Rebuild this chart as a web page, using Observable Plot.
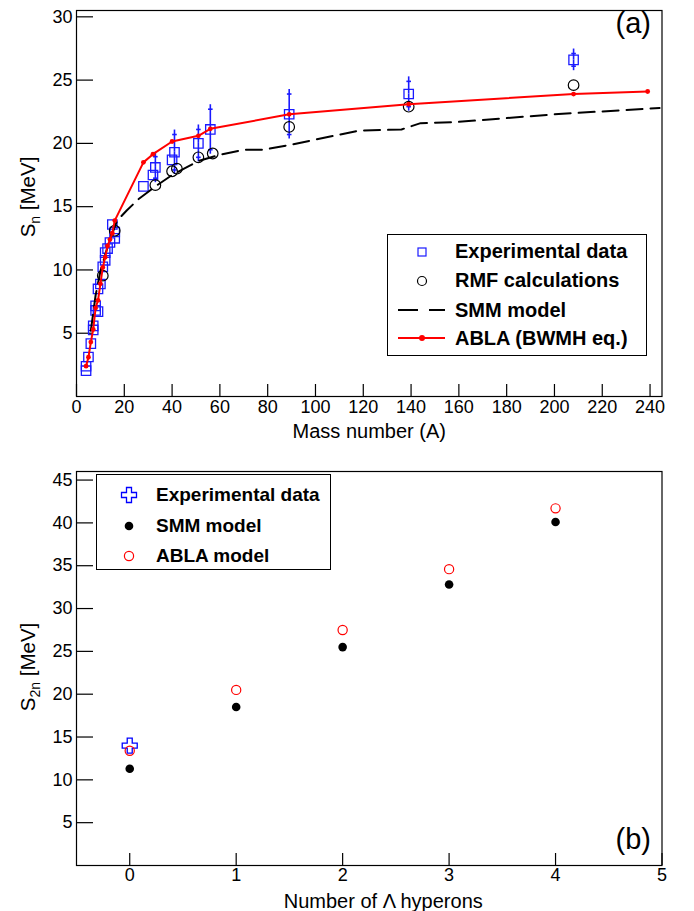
<!DOCTYPE html>
<html><head><meta charset="utf-8">
<script src="https://cdn.jsdelivr.net/npm/d3@7"></script>
<script src="https://cdn.jsdelivr.net/npm/@observablehq/plot@0.6"></script>
<style>
body{margin:0;background:#fff;font-family:"Liberation Sans",Arial,Helvetica,sans-serif;}
#wrap{position:relative;width:694px;height:911px;overflow:hidden;}
#wrap svg{display:block;}
.legend{position:absolute;border:1.5px solid #000;background:#fff;box-sizing:border-box;font-weight:bold;color:#000;}
.legend .row{position:absolute;left:0;white-space:nowrap;}
.legend svg{position:absolute;overflow:visible;}
</style></head><body><div id="wrap"></div>
<script>
// ---------- Panel (a) data ----------
const topXTicks = [0,20,40,60,80,100,120,140,160,180,200,220,240];
const topYTicks = [5,10,15,20,25,30];
const expA   = [4,4,5,6,7,7,8,8,9,9,10,11,12,12,13,14,15,16,16,28,32,33,40,41,51,56,89,139,208];
const expS   = [2.04,2.39,3.12,4.18,5.26,5.58,6.80,7.16,6.71,8.50,8.89,10.24,10.76,11.37,11.69,12.17,13.59,12.50,13.0,16.6,17.5,18.1,18.7,19.3,20.0,21.1,22.3,23.9,26.6];
const expErr = [0,0,0,0,0,0,0,0,0,0,0,0,0,0,0,0,0,0,0,0,0,0.85,0,1.4,1.1,1.6,1.6,1.0,0.5];
const rmfA = [11,16,33,40,42,51,57,89,139,208];
const rmfS = [9.55,13.1,16.7,17.8,18.0,18.9,19.2,21.3,22.9,24.6];
const smmA = [6,8,10,12,14,17,21,26,33,40,45,51,60,70,78,90,100,118,136,144,160,200,244];
const smmS = [5.2,8.0,9.9,11.2,12.4,13.9,14.7,15.6,16.6,17.5,18.0,18.6,19.1,19.5,19.5,19.9,20.3,21.0,21.1,21.6,21.7,22.3,22.8];
const ablaA = [4,5,6,7,8,9,10,11,12,13,14,15,16,28,32,40,51,56,89,139,208,239];
const ablaS = [2.4,3.1,4.3,5.3,7.0,7.6,8.9,10.2,11.0,11.9,12.4,12.9,13.9,18.5,19.15,20.15,20.6,21.15,22.3,23.1,23.9,24.1];
const topLegend = ["Experimental data","RMF calculations","SMM model","ABLA (BWMH eq.)"];

// ---------- Panel (b) data ----------
const botXTicks = [0,1,2,3,4,5];
const botYTicks = [5,10,15,20,25,30,35,40,45];
const expN = [0];
const expS2n = [14.0];
const hypN = [0,1,2,3,4];
const smmS2n = [11.3,18.5,25.5,32.8,40.1];
const ablaS2n = [13.4,20.5,27.5,34.6,41.7];
const botLegend = ["Experimental data","SMM model","ABLA model"];

const FONT = '"Liberation Sans", Arial, Helvetica, sans-serif';
const BLUE = "#1a1aff", RED = "#ff0000";

const plusSym = {draw(ctx, size){ const r=Math.sqrt(size/Math.PI), a=r/3;
  ctx.moveTo(-a,-r); ctx.lineTo(a,-r); ctx.lineTo(a,-a); ctx.lineTo(r,-a); ctx.lineTo(r,a); ctx.lineTo(a,a);
  ctx.lineTo(a,r); ctx.lineTo(-a,r); ctx.lineTo(-a,a); ctx.lineTo(-r,a); ctx.lineTo(-r,-a); ctx.lineTo(-a,-a); ctx.closePath(); }};
const capSym = {draw(ctx, size){ const r=Math.sqrt(size/Math.PI); ctx.moveTo(-r,0); ctx.lineTo(r,0); }};

const wrap = document.getElementById("wrap");
const W = 694, ML = 76, MR = 694-661.5;

// ---------- Panel (a) ----------
const expRows = expA.map((a,i)=>({A:a, S:expS[i], e:expErr[i]}));
const errRows = expRows.filter(d=>d.e>0);
const rmfRows = rmfA.map((a,i)=>({A:a, S:rmfS[i]}));
const smmRows = smmA.map((a,i)=>({A:a, S:smmS[i]}));
const ablaRows = ablaA.map((a,i)=>({A:a, S:ablaS[i]}));

const topH = 440, topMT = 10, topMB = 44;
const topPH = topH-topMT-topMB, PW = W-ML-MR;
const plotA = Plot.plot({
  width: W, height: topH, marginLeft: ML, marginRight: MR, marginTop: topMT, marginBottom: topMB,
  x: {domain: [0,245]}, y: {domain: [0,30.5]},
  style: {fontFamily: FONT, fontSize: "18px", color: "#000", background: "#fff", overflow: "visible"},
  marks: [
    Plot.axisX(topXTicks, {tickSize: 0, tickPadding: 4, label: null, fontSize: 18}),
    Plot.axisY(topYTicks, {tickSize: 0, tickPadding: 4, label: null, fontSize: 18}),
    Plot.ruleX(topXTicks, {x: d=>d, insetTop: topPH-12, stroke: "#000", strokeWidth: 1.2}),
    Plot.ruleY(topYTicks, {y: d=>d, insetRight: PW-17, stroke: "#000", strokeWidth: 1.2}),
    Plot.ruleX(errRows, {x: "A", y1: "S", y2: d=>d.S+d.e, insetBottom: 4.5, stroke: BLUE, strokeWidth: 1.6}),
    Plot.ruleX(errRows, {x: "A", y1: d=>d.S-d.e, y2: "S", insetTop: 4.5, stroke: BLUE, strokeWidth: 1.6}),
    Plot.dot(errRows, {x: "A", y: d=>d.S+d.e, symbol: capSym, r: 2.3, stroke: BLUE, strokeWidth: 1.6}),
    Plot.dot(errRows, {x: "A", y: d=>d.S-d.e, symbol: capSym, r: 2.3, stroke: BLUE, strokeWidth: 1.6}),
    Plot.dot(expRows, {x: "A", y: "S", symbol: "square", r: 5.3, stroke: BLUE, strokeWidth: 1.3, fill: "none"}),
    Plot.dot(rmfRows, {x: "A", y: "S", symbol: "circle", r: 5.3, stroke: "#000", strokeWidth: 1.2, fill: "none"}),
    Plot.line(smmRows, {x: "A", y: "S", stroke: "#000", strokeWidth: 2, strokeDasharray: "16,8"}),
    Plot.line(ablaRows, {x: "A", y: "S", stroke: RED, strokeWidth: 2}),
    Plot.dot(ablaRows, {x: "A", y: "S", r: 2.4, fill: RED}),
    Plot.text(["(a)"], {frameAnchor: "top-right", dx: -11, dy: 2, textAnchor: "end", lineAnchor: "top", fontSize: 29}),
    Plot.text(["Mass number (A)"], {frameAnchor: "bottom", dx: 0, dy: 41, lineAnchor: "bottom", fontSize: 20}),
    Plot.frame({stroke: "#000", strokeWidth: 1.2})
  ]
});
wrap.appendChild(plotA);

// ---------- Panel (b) ----------
const botH = 471, botMT = 31, botMB = 46;
const botPH = botH-botMT-botMB;
const expRowsB = expN.map((n,i)=>({n, S:expS2n[i]}));
const smmRowsB = hypN.map((n,i)=>({n, S:smmS2n[i]}));
const ablaRowsB = hypN.map((n,i)=>({n, S:ablaS2n[i]}));
const plotB = Plot.plot({
  width: W, height: botH, marginLeft: ML, marginRight: MR, marginTop: botMT, marginBottom: botMB,
  x: {domain: [-0.5,5]}, y: {domain: [0,46]},
  style: {fontFamily: FONT, fontSize: "18px", color: "#000", background: "#fff", overflow: "visible"},
  marks: [
    Plot.axisX(botXTicks, {tickSize: 0, tickPadding: 3, label: null, fontSize: 18}),
    Plot.axisY(botYTicks, {tickSize: 0, tickPadding: 4, label: null, fontSize: 18}),
    Plot.ruleX(botXTicks, {x: d=>d, insetTop: botPH-12, stroke: "#000", strokeWidth: 1.2}),
    Plot.ruleY(botYTicks, {y: d=>d, insetRight: PW-17, stroke: "#000", strokeWidth: 1.2}),
    Plot.dot(expRowsB, {x: "n", y: "S", symbol: plusSym, r: 7.5, stroke: "#0000ff", strokeWidth: 1.3, fill: "none"}),
    Plot.dot(smmRowsB, {x: "n", y: "S", r: 4.3, fill: "#000"}),
    Plot.dot(ablaRowsB, {x: "n", y: "S", r: 4.6, stroke: RED, strokeWidth: 1.2, fill: "none"}),
    Plot.text(["(b)"], {frameAnchor: "bottom-right", dx: -11, dy: -17, textAnchor: "end", lineAnchor: "bottom", fontSize: 29}),
    Plot.text(["Number of Λ hyperons"], {frameAnchor: "bottom", dx: 14, dy: 42, lineAnchor: "bottom", fontSize: 20}),
    Plot.frame({stroke: "#000", strokeWidth: 1.2})
  ]
});
wrap.appendChild(plotB);

function yTitle(svg, cx, cy, sub){
  const t = d3.select(svg).append("text")
    .attr("transform", `translate(${cx},${cy}) rotate(-90)`)
    .attr("text-anchor","middle").attr("font-size", 20.5).attr("font-family", FONT).attr("fill","#000");
  t.append("tspan").text("S");
  t.append("tspan").attr("font-size", 14).attr("dy", 5).text(sub);
  t.append("tspan").attr("dy", -5).text(" [MeV]");
}
yTitle(plotA, 35, 197, "n");
yTitle(plotB, 35, 667-440, "2n");

function legend(box, rows, font, items){
  const div = document.createElement("div");
  div.className = "legend";
  Object.assign(div.style, {left: box[0]+"px", top: box[1]+"px", width: (box[2]-box[0])+"px", height: (box[3]-box[1])+"px", fontSize: font+"px"});
  items.forEach((it,i)=>{
    const yy = rows[i]-box[1];
    const r = document.createElement("div");
    r.className = "row";
    r.style.top = (yy - font*0.58)+"px";
    r.style.left = (it.tx - box[0])+"px";
    r.textContent = it.label;
    div.appendChild(r);
    const s = document.createElementNS("http://www.w3.org/2000/svg","svg");
    s.setAttribute("width",1); s.setAttribute("height",1);
    s.style.left = (it.mx - box[0])+"px"; s.style.top = yy+"px";
    s.innerHTML = it.svg;
    div.appendChild(s);
  });
  wrap.appendChild(div);
}
const topRowsY = [250.7, 280, 309.3, 337.3];
legend([387.3,234,646.7,355.5], topRowsY, 20, [
  {label: topLegend[0], tx: 454, mx: 420.7, svg: `<rect x="-4" y="-4" width="8" height="8" fill="none" stroke="${BLUE}" stroke-width="1.2"/>`},
  {label: topLegend[1], tx: 454, mx: 420.7, svg: `<circle r="4.5" fill="none" stroke="#000" stroke-width="1.2"/>`},
  {label: topLegend[2], tx: 454, mx: 420.7, svg: `<line x1="-24" x2="-4" stroke="#000" stroke-width="2"/><line x1="7" x2="23" stroke="#000" stroke-width="2"/>`},
  {label: topLegend[3], tx: 454, mx: 420.7, svg: `<line x1="-24" x2="23" stroke="${RED}" stroke-width="2"/><circle r="3" fill="${RED}"/>`}
]);
const botRowsY = [494, 525, 555];
legend([95.7,474,330.7,569.5], botRowsY, 19, [
  {label: botLegend[0], tx: 155, mx: 128, svg: `<path d="M-2.5,-7.5H2.5V-2.5H7.5V2.5H2.5V7.5H-2.5V2.5H-7.5V-2.5H-2.5Z" fill="none" stroke="#0000ff" stroke-width="1.3"/>`},
  {label: botLegend[1], tx: 155, mx: 128, svg: `<circle r="4.3" fill="#000"/>`},
  {label: botLegend[2], tx: 155, mx: 128, svg: `<circle r="4.6" fill="none" stroke="${RED}" stroke-width="1.2"/>`}
]);
</script></body></html>
